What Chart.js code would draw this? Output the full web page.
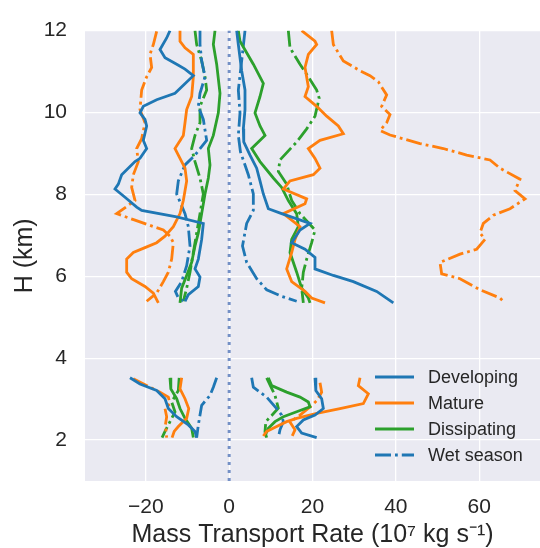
<!DOCTYPE html>
<html>
<head>
<meta charset="utf-8">
<script src="https://cdn.jsdelivr.net/npm/chart.js@4.4.1/dist/chart.umd.min.js"></script>
<style>
  html, body { margin: 0; padding: 0; background: #fff; }
  canvas { display: block; }
</style>
</head>
<body>
<canvas id="profileChart" width="540" height="548"></canvas>
<script>
// [mass transport rate, height km]; upper layer (5.3-12 km) and lower layer (2-3.5 km)
var devDownUpper = [[-14.2,12.0],[-15.0,11.82],[-16.6,11.54],[-15.4,11.34],[-12.6,11.18],[-10.6,11.06],[-8.6,10.90],[-13.0,10.47],[-17.4,10.31],[-20.6,10.15],[-21.4,9.99],[-20.2,9.83],[-19.8,9.67],[-20.6,9.32],[-19.8,9.12],[-21.4,8.88],[-22.6,8.80],[-25.8,8.48],[-26.6,8.25],[-27.4,8.13],[-25.0,7.93],[-22.2,7.69],[-21.0,7.61],[-12.6,7.45],[-6.2,7.29],[-6.6,6.90],[-7.4,6.42],[-8.2,6.18],[-7.0,5.98],[-7.4,5.75],[-9.8,5.55],[-10.6,5.39]];
var devDownLower = [[-23.8,3.52],[-21.4,3.37],[-17.4,3.21],[-15.4,3.01],[-14.6,2.77],[-12.6,2.57],[-9.8,2.37],[-8.2,2.21],[-7.8,2.06]];
var devUpUpper = [[1.8,12.0],[2.2,11.66],[3.0,11.02],[3.8,10.55],[3.8,10.07],[3.4,9.60],[3.5,9.28],[5.0,8.96],[6.6,8.64],[7.4,8.33],[8.2,8.01],[9.4,7.65],[12.6,7.53],[19.4,7.29],[17.0,7.13],[15.0,6.82],[18.2,6.66],[20.6,6.46],[20.6,6.18],[25.0,6.02],[29.8,5.87],[35.4,5.63],[39.4,5.35]];
var devUpLower = [[20.6,3.52],[20.8,3.21],[22.2,3.01],[22.6,2.77],[20.6,2.61],[17.8,2.49],[16.2,2.33],[17.4,2.17],[21.0,2.06]];

var matDownUpper = [[-11.8,12.0],[-11.8,11.74],[-10.6,11.58],[-8.6,11.42],[-8.6,10.87],[-9.0,10.39],[-10.2,10.07],[-10.6,9.75],[-11.0,9.44],[-13.0,9.12],[-11.8,8.88],[-10.6,8.64],[-10.2,8.33],[-11.0,7.85],[-11.8,7.53],[-13.4,7.21],[-15.4,6.98],[-17.4,6.82],[-20.2,6.70],[-23.0,6.58],[-24.6,6.42],[-24.6,6.10],[-23.4,5.94],[-20.2,5.75],[-18.2,5.59],[-17.0,5.35]];
var matDownLower = [[-11.4,3.52],[-11.8,3.25],[-10.6,3.01],[-9.7,2.77],[-10.2,2.53],[-12.2,2.33],[-13.2,2.21],[-13.7,2.06]];
var matUpUpper = [[17.4,12.0],[20.6,11.74],[21.0,11.66],[19.0,11.42],[18.2,11.10],[19.0,10.63],[18.2,10.39],[21.0,10.15],[23.4,9.91],[26.2,9.67],[27.4,9.48],[21.8,9.32],[19.0,9.12],[20.6,8.88],[21.8,8.64],[20.2,8.48],[14.6,8.33],[13.0,8.13],[18.6,7.89],[18.2,7.77],[13.0,7.53],[17.0,7.21],[15.8,6.90],[15.0,6.58],[13.8,6.18],[15.0,5.87],[18.2,5.63],[19.8,5.47],[23.0,5.35]];
var matUpLower = [[31.4,3.52],[31.0,3.33],[33.4,3.13],[32.2,2.89],[26.6,2.77],[21.0,2.65],[16.2,2.53],[13.8,2.45],[11.4,2.33],[9.0,2.21],[8.2,2.10]];

var disDownUpper = [[-3.4,12.0],[-3.8,11.66],[-3.0,11.18],[-2.2,10.47],[-2.6,9.99],[-3.8,9.44],[-5.0,9.12],[-4.6,8.72],[-5.0,8.40],[-5.8,8.01],[-6.6,7.53],[-7.4,7.06],[-8.2,6.74],[-9.0,6.34],[-10.2,6.02],[-11.4,5.71],[-11.8,5.35]];
var disDownLower = [[-14.2,3.52],[-14.0,3.25],[-12.6,3.01],[-11.8,2.77],[-10.6,2.53],[-9.0,2.29],[-8.6,2.06]];
var disUpUpper = [[2.2,12.0],[2.6,11.74],[5.8,11.18],[8.2,10.71],[7.4,10.39],[6.2,9.99],[7.4,9.67],[8.6,9.44],[5.4,9.12],[7.4,8.80],[10.6,8.40],[12.6,8.17],[14.2,7.85],[16.2,7.53],[16.6,7.21],[15.0,6.90],[14.6,6.58],[16.2,6.10],[17.4,5.71],[19.0,5.47],[19.4,5.35]];
var disUpLower = [[9.4,3.52],[10.2,3.33],[13.8,3.17],[17.0,3.05],[19.0,2.93],[19.4,2.81],[16.2,2.69],[13.0,2.57],[11.0,2.45],[9.4,2.29],[8.6,2.10]];

var wetDevDownUpper = [[-7.0,12.0],[-7.0,11.66],[-6.6,11.26],[-5.8,10.87],[-7.0,10.47],[-7.4,10.15],[-6.2,9.83],[-5.4,9.32],[-8.2,8.96],[-10.6,8.72],[-12.2,8.33],[-12.6,8.01],[-10.6,7.53],[-9.8,7.21],[-9.4,6.74],[-10.2,6.26],[-11.4,5.87],[-12.9,5.63],[-12.2,5.47],[-11.0,5.39]];
var wetDevDownLower = [[-3.0,3.52],[-3.8,3.29],[-4.6,3.09],[-6.6,2.85],[-7.0,2.61],[-7.4,2.37],[-7.8,2.06]];
var wetDevUpUpper = [[3.8,12.0],[3.0,11.26],[2.2,10.55],[2.6,9.99],[2.2,9.44],[2.7,9.04],[4.6,8.48],[5.8,8.01],[5.8,7.61],[4.2,7.29],[3.2,6.74],[4.2,6.34],[6.6,5.94],[9.0,5.67],[12.6,5.51],[16.2,5.39]];
var wetDevUpLower = [[5.4,3.52],[5.8,3.29],[7.4,3.17],[9.0,3.05],[11.4,2.77],[12.6,2.61],[13.0,2.45],[12.2,2.25],[11.8,2.06]];

var wetMatDownUpper = [[-17.4,11.98],[-18.2,11.66],[-19.0,11.42],[-18.6,11.10],[-19.8,10.87],[-21.0,10.55],[-21.4,10.07],[-20.2,9.75],[-21.0,9.36],[-22.2,9.12],[-21.8,8.80],[-23.0,8.48],[-23.4,8.17],[-22.6,7.85],[-27.0,7.53],[-22.6,7.37],[-15.8,7.13],[-14.2,6.98],[-13.4,6.82],[-13.8,6.42],[-14.6,6.10],[-15.8,5.87],[-17.4,5.59],[-19.8,5.39]];
var wetMatDownLower = [[-23.0,3.50],[-19.4,3.31],[-16.6,3.17],[-14.6,3.05],[-14.2,2.89],[-15.4,2.77],[-15.0,2.57],[-15.3,2.37],[-15.0,2.06]];
var wetMatUpUpper = [[24.6,12.0],[25.0,11.66],[27.4,11.26],[31.4,11.02],[33.8,10.90],[35.8,10.75],[37.8,10.43],[36.6,10.15],[38.6,9.95],[37.8,9.75],[36.2,9.56],[38.6,9.45],[45.8,9.24],[51.4,9.12],[57.0,8.96],[62.6,8.84],[65.0,8.64],[69.8,8.37],[68.6,8.09],[71.0,7.89],[67.4,7.65],[63.4,7.49],[61.0,7.29],[60.2,7.06],[61.4,6.90],[59.4,6.66],[55.4,6.54],[50.6,6.34],[51.0,6.06],[55.4,5.94],[60.2,5.67],[65.0,5.47],[66.2,5.35]];
var wetMatUpLower = [[21.8,3.40],[22.2,3.17],[21.1,2.97],[19.4,2.81],[17.0,2.61],[14.6,2.44],[15.8,2.25],[15.0,2.07]];

var wetDisDownUpper = [[-8.2,12.0],[-7.8,11.66],[-6.6,11.26],[-5.8,10.87],[-5.4,10.55],[-7.0,10.15],[-7.0,9.75],[-8.2,9.44],[-9.0,9.12],[-8.2,8.80],[-7.0,8.40],[-6.2,8.01],[-7.0,7.53],[-7.8,7.06],[-8.6,6.58],[-9.4,6.10],[-10.2,5.71],[-11.0,5.39]];
var wetDisDownLower = [[-12.0,3.52],[-12.2,3.21],[-13.8,2.93],[-13.0,2.69],[-14.2,2.45],[-15.4,2.21],[-16.1,2.06]];
var wetDisUpUpper = [[14.2,12.0],[14.6,11.58],[17.0,11.18],[19.0,10.87],[21.0,10.55],[21.6,10.35],[20.6,9.91],[18.6,9.60],[16.2,9.28],[12.2,8.84],[11.8,8.56],[13.8,8.25],[15.0,7.85],[17.0,7.53],[20.6,7.13],[19.8,6.82],[18.6,6.42],[17.8,6.10],[17.4,5.71],[17.8,5.35]];
var wetDisUpLower = [[9.0,3.52],[9.8,3.35],[11.0,3.09],[11.8,2.78],[10.2,2.60],[8.8,2.45],[8.6,2.20],[9.0,2.06]];

var xTicks = [-20, 0, 20, 40, 60];
var yTicks = [2, 4, 6, 8, 10, 12];
var legendLabels = ['Developing', 'Mature', 'Dissipating', 'Wet season'];

var BLUE = '#1f77b4', ORANGE = '#ff7f0e', GREEN = '#2ca02c';
var DASHDOT = [16, 4, 2.8, 4];
var FONT = '"Liberation Sans", Arial, sans-serif';
var TEXT = '#262626';
var LW = 2.8;

function profile(upper, lower) {
  var pts = upper.map(function (p) { return { x: p[0], y: p[1] }; });
  pts.push({ x: null, y: null });
  return pts.concat(lower.map(function (p) { return { x: p[0], y: p[1] }; }));
}

function line(label, upper, lower, color, dashed) {
  return {
    label: label,
    data: profile(upper, lower),
    borderColor: color,
    borderWidth: LW,
    borderDash: dashed ? DASHDOT : [],
    pointRadius: 0,
    showLine: true,
    fill: false,
    tension: 0,
    spanGaps: false
  };
}

var datasets = [
  {
    label: 'zero',
    data: [{ x: 0, y: 1 }, { x: 0, y: 12 }],
    borderColor: '#7490c6',
    borderWidth: 3,
    borderDash: [3, 5],
    pointRadius: 0,
    showLine: true
  },
  line('Developing', devDownUpper, devDownLower, BLUE, false),
  line('Developing', devUpUpper, devUpLower, BLUE, false),
  line('Mature', matDownUpper, matDownLower, ORANGE, false),
  line('Mature', matUpUpper, matUpLower, ORANGE, false),
  line('Dissipating', disDownUpper, disDownLower, GREEN, false),
  line('Dissipating', disUpUpper, disUpLower, GREEN, false),
  line('Wet season', wetDevDownUpper, wetDevDownLower, BLUE, true),
  line('Wet season', wetDevUpUpper, wetDevUpLower, BLUE, true),
  line('Wet mature', wetMatDownUpper, wetMatDownLower, ORANGE, true),
  line('Wet mature', wetMatUpUpper, wetMatUpLower, ORANGE, true),
  line('Wet dissipating', wetDisDownUpper, wetDisDownLower, GREEN, true),
  line('Wet dissipating', wetDisUpUpper, wetDisUpLower, GREEN, true)
];

// grey seaborn-style plot background
var plotBackground = {
  id: 'plotBackground',
  beforeDraw: function (chart) {
    var a = chart.chartArea;
    var ctx = chart.ctx;
    ctx.save();
    ctx.fillStyle = '#EAEAF2';
    ctx.fillRect(a.left, a.top, a.right - a.left, a.bottom - a.top);
    ctx.restore();
  }
};

// legend inside the lower right corner, no frame
var insideLegend = {
  id: 'insideLegend',
  afterDraw: function (chart) {
    var a = chart.chartArea;
    var ctx = chart.ctx;
    var colors = [BLUE, ORANGE, GREEN, BLUE];
    ctx.save();
    ctx.font = '18px ' + FONT;
    ctx.textBaseline = 'middle';
    ctx.fillStyle = TEXT;
    legendLabels.forEach(function (lab, i) {
      var y = a.bottom - 104 + i * 26;
      var x0 = a.right - 165;
      ctx.strokeStyle = colors[i];
      ctx.lineWidth = LW;
      ctx.setLineDash(i === 3 ? DASHDOT : []);
      ctx.beginPath();
      ctx.moveTo(x0, y);
      ctx.lineTo(x0 + 39, y);
      ctx.stroke();
      ctx.fillText(lab, x0 + 53, y + 1);
    });
    ctx.restore();
  }
};

new Chart(document.getElementById('profileChart'), {
  type: 'scatter',
  data: { datasets: datasets },
  options: {
    responsive: false,
    animation: false,
    events: [],
    layout: { padding: { top: 19, right: 0, bottom: 0, left: 0 } },
    plugins: { legend: { display: false }, tooltip: { enabled: false } },
    scales: {
      x: {
        type: 'linear',
        min: -34.6,
        max: 74.6,
        border: { display: false },
        grid: { color: '#ffffff', lineWidth: 1.3, drawTicks: false },
        afterBuildTicks: function (s) { s.ticks = xTicks.map(function (v) { return { value: v }; }); },
        afterFit: function (s) { s.height = 67; },
        ticks: {
          padding: 14,
          color: TEXT,
          font: { family: FONT, size: 21 },
          callback: function (v) { return v < 0 ? '\u2212' + Math.abs(v) : String(v); }
        },
        title: {
          display: true,
          text: 'Mass Transport Rate (10\u2077 kg s\u207B\u00B9)',
          color: TEXT,
          font: { family: FONT, size: 25, lineHeight: 1.0 },
          padding: { top: 0, bottom: 0 }
        }
      },
      y: {
        type: 'linear',
        min: 1,
        max: 12,
        border: { display: false },
        grid: { color: '#ffffff', lineWidth: 1.3, drawTicks: false },
        afterBuildTicks: function (s) { s.ticks = yTicks.map(function (v) { return { value: v }; }); },
        afterFit: function (s) { s.width = 85; },
        ticks: {
          padding: 18,
          color: TEXT,
          font: { family: FONT, size: 21 }
        },
        title: {
          display: true,
          text: 'H (km)',
          color: TEXT,
          font: { family: FONT, size: 25, lineHeight: 1.0 },
          padding: { top: 13, bottom: 0 }
        }
      }
    }
  },
  plugins: [plotBackground, insideLegend]
});
</script>
</body>
</html>
